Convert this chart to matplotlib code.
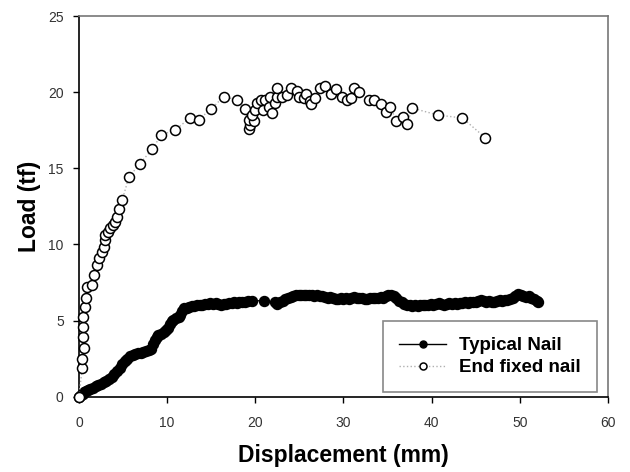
import matplotlib.pyplot as plt

# Typical Nail (filled markers, solid line)
typical_x = [0.0, 0.2, 0.4, 0.6, 0.8, 1.0, 1.3, 1.6, 1.9, 2.2, 2.5, 2.8, 3.1, 3.4, 3.7,
             4.0, 4.3, 4.6, 4.9, 5.2, 5.5, 5.8, 6.1, 6.4, 6.7, 7.0, 7.3, 7.6, 7.9, 8.2,
             8.4, 8.6, 8.8, 9.0, 9.3, 9.6, 9.9, 10.1, 10.3, 10.5, 10.7, 11.0, 11.3, 11.5,
             11.7, 11.9, 12.2, 12.5, 12.8, 13.1, 13.4, 13.7, 14.0, 14.3, 14.6, 14.9, 15.2,
             15.5, 15.8, 16.1, 16.4, 16.7, 17.0, 17.3, 17.6, 17.9, 18.2, 18.5, 18.8, 19.2,
             19.6, 21.0, 22.2, 22.5, 22.8, 23.1, 23.4, 23.7, 24.0, 24.3, 24.6, 24.9, 25.2,
             25.5, 25.8, 26.1, 26.4, 26.7, 27.0, 27.3, 27.6, 27.9, 28.2, 28.5, 28.8, 29.1,
             29.4, 29.7, 30.0, 30.3, 30.6, 30.9, 31.2, 31.5, 31.8, 32.1, 32.4, 32.7, 33.0,
             33.3, 33.6, 33.9, 34.2, 34.5, 34.8, 35.1, 35.4, 35.7, 36.0, 36.3, 36.6, 36.9,
             37.2, 37.5, 37.8, 38.1, 38.4, 38.7, 39.0, 39.3, 39.6, 39.9, 40.2, 40.5, 40.8,
             41.1, 41.4, 41.7, 42.0, 42.3, 42.6, 42.9, 43.2, 43.5, 43.8, 44.1, 44.4, 44.7,
             45.0, 45.3, 45.6, 45.9, 46.2, 46.5, 46.8, 47.1, 47.4, 47.7, 48.0, 48.3, 48.6,
             48.9, 49.2, 49.5, 49.8, 50.1, 50.4, 50.7, 51.0, 51.3, 51.6, 51.9, 52.1]
typical_y = [0.0, 0.1, 0.2, 0.3, 0.35, 0.45, 0.5, 0.6, 0.7, 0.75, 0.85, 0.95, 1.05, 1.15, 1.3,
             1.5, 1.7, 1.9, 2.15, 2.35, 2.5, 2.65, 2.75, 2.8, 2.85, 2.9, 2.95, 3.0, 3.05, 3.15,
             3.45, 3.75, 3.95, 4.05, 4.15, 4.25, 4.35, 4.5, 4.8, 4.95, 5.05, 5.15, 5.25, 5.35,
             5.6, 5.8, 5.85, 5.9, 5.95, 5.95, 6.0, 6.05, 6.05, 6.1, 6.1, 6.15, 6.1,
             6.15, 6.1, 6.05, 6.1, 6.1, 6.15, 6.15, 6.2, 6.15, 6.2, 6.25, 6.2, 6.3,
             6.3, 6.3, 6.2, 6.1, 6.2, 6.3, 6.4, 6.45, 6.55, 6.6, 6.65, 6.7, 6.7,
             6.65, 6.7, 6.65, 6.65, 6.6, 6.65, 6.6, 6.6, 6.55, 6.5, 6.55, 6.45, 6.4,
             6.4, 6.45, 6.4, 6.45, 6.4, 6.5, 6.55, 6.5, 6.5, 6.45, 6.4, 6.4, 6.45,
             6.45, 6.5, 6.5, 6.55, 6.5, 6.6, 6.65, 6.7, 6.6, 6.45, 6.3, 6.2, 6.1,
             6.05, 6.0, 5.95, 6.0, 5.95, 6.0, 6.05, 6.0, 6.05, 6.1, 6.05, 6.1, 6.15,
             6.1, 6.05, 6.1, 6.15, 6.1, 6.15, 6.1, 6.15, 6.15, 6.2, 6.15, 6.2, 6.25,
             6.25, 6.3, 6.35, 6.3, 6.25, 6.3, 6.25, 6.25, 6.3, 6.35, 6.3, 6.35, 6.35,
             6.4, 6.45, 6.6, 6.75, 6.7, 6.6, 6.55, 6.6, 6.5, 6.4, 6.3, 6.25]

# End fixed nail (open markers, dotted line)
endfixed_x = [0.0, 0.36, 0.36, 0.54, 0.43, 0.43, 0.43, 0.66, 0.74, 0.93, 1.49, 1.68, 2.06,
              2.24, 2.63, 2.81, 3.0, 2.92, 3.3, 3.57, 3.83, 4.05, 4.33, 4.5, 4.9, 5.64, 6.9,
              8.3, 9.34, 10.9, 12.55, 13.57, 15.0, 16.4, 17.9, 18.86, 19.23, 19.4, 19.34,
              19.8, 19.6, 20.0, 20.2, 20.6, 20.9, 21.1, 21.5, 21.9, 21.7, 22.25, 22.45,
              22.5, 23.0, 23.6, 24.0, 24.7, 24.9, 25.5, 25.8, 26.2, 26.3, 26.8, 27.35, 27.9,
              28.6, 29.2, 29.8, 30.4, 30.8, 31.2, 31.8, 32.9, 33.5, 34.3, 34.8, 35.3, 36.0,
              36.8, 37.2, 37.8, 40.7, 43.5, 46.1]
endfixed_y = [0.0, 1.89, 2.48, 3.2, 3.92, 4.58, 5.24, 5.9, 6.48, 7.2, 7.34, 8.0, 8.66,
              9.11, 9.5, 9.84, 10.3, 10.6, 10.8, 11.1, 11.3, 11.5, 11.8, 12.3, 12.9, 14.4, 15.3,
              16.25, 17.2, 17.5, 18.3, 18.2, 18.9, 19.7, 19.5, 18.9, 17.6, 17.85, 18.2,
              18.1, 18.5, 18.8, 19.3, 19.5, 18.8, 19.5, 19.05, 18.6, 19.7, 19.3, 19.7,
              20.3, 19.7, 19.8, 20.3, 20.1, 19.7, 19.6, 19.9, 19.4, 19.2, 19.6, 20.3, 20.4,
              19.9, 20.2, 19.7, 19.5, 19.6, 20.3, 20.0, 19.5, 19.5, 19.2, 18.7, 19.05, 18.1,
              18.4, 17.9, 18.95, 18.5, 18.3, 17.0]

x_ticks = [0, 10, 20, 30, 40, 50, 60]
y_ticks = [0, 5, 10, 15, 20, 25]

plt.rcParams['font.family'] = ['Liberation Sans', 'DejaVu Sans']

fig = plt.figure(figsize=(6.3, 4.72), dpi=100)
ax = fig.add_axes([0.1254, 0.1595, 0.8396, 0.8066])

ax.plot(typical_x, typical_y, '-', color='black', lw=1.0, marker='o', ms=7.2,
        mfc='black', mec='black', clip_on=False, zorder=3, label='Typical Nail')
ax.plot(endfixed_x, endfixed_y, ':', color='#b0b0b0', lw=1.0, marker='o', ms=7.2,
        mfc='white', mec='black', mew=1.1, clip_on=False, zorder=4, label='End fixed nail')

ax.set_xlim(0, 60)
ax.set_ylim(0, 25)
ax.set_xticks(x_ticks)
ax.set_yticks(y_ticks)
ax.tick_params(direction='out', length=4, width=1, colors='black', labelcolor='#333333',
               labelsize=10, top=False, right=False)
ax.tick_params(axis='x', pad=10)
ax.tick_params(axis='y', pad=7)

ax.spines['left'].set_color('black')
ax.spines['bottom'].set_color('black')
ax.spines['top'].set_color('#777777')
ax.spines['right'].set_color('#777777')
for s in ax.spines.values():
    s.set_linewidth(1.2)

ax.set_xlabel('Displacement (mm)', fontsize=16.5, fontweight='bold', labelpad=10)
ax.set_ylabel('Load (tf)', fontsize=16.5, fontweight='bold', labelpad=5)

leg = ax.legend(loc='lower right', bbox_to_anchor=(0.979, 0.012), fancybox=False,
                edgecolor='#888888', framealpha=1, prop={'size': 13.5, 'weight': 'bold'},
                handlelength=2.5, handletextpad=0.7, borderpad=0.85, labelspacing=0.25,
                borderaxespad=0, markerscale=0.7)
leg.get_frame().set_linewidth(1.2)

fig.savefig('out.png', dpi=100)
